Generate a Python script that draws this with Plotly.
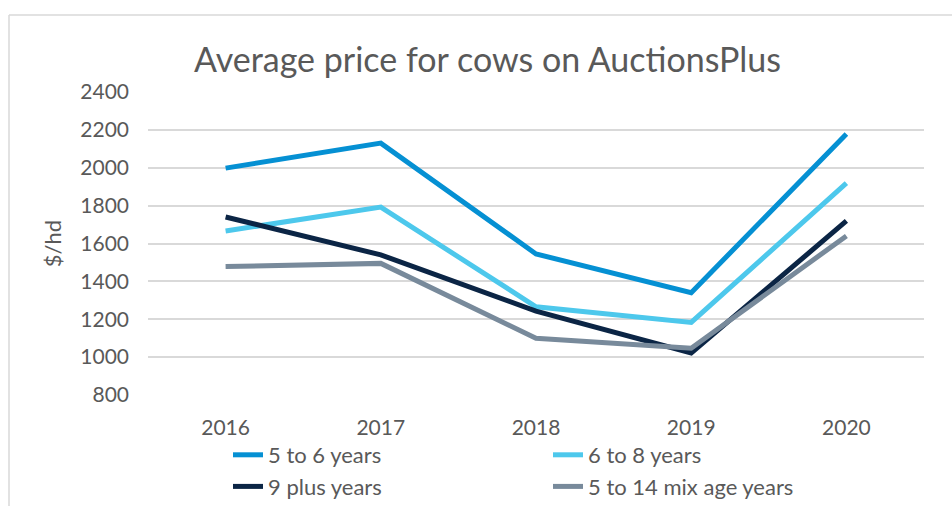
import plotly.graph_objects as go

years = ["2016", "2017", "2018", "2019", "2020"]
s_5to6 = [1998, 2130, 1545, 1340, 2178]
s_6to8 = [1666, 1792, 1266, 1183, 1919]
s_9plus = [1740, 1540, 1243, 1022, 1719]
s_5to14 = [1478, 1495, 1100, 1047, 1640]

names = ["5 to 6 years", "6 to 8 years", "9 plus years", "5 to 14 mix age years"]
series = [s_5to6, s_6to8, s_9plus, s_5to14]
colors = ["#0590D3", "#4DC8EC", "#0B2545", "#788A9B"]
legends = ["legend", "legend2", "legend", "legend2"]

FONT = "Lato"
GREY = "#595959"

fig = go.Figure()
for name, vals, col, lg in zip(names, series, colors, legends):
    fig.add_trace(go.Scatter(
        x=years, y=vals, name=name, mode="lines",
        line=dict(color=col, width=5),
        legend=lg,
    ))

W, H = 952, 506
L, R, T, B = 148, 28, 92, 111
pw, ph = W - L - R, H - T - B

def px_x(px):
    return (px - L) / pw

def px_y(py):
    return (H - B - py) / ph

fig.update_layout(
    width=W, height=H,
    margin=dict(l=L, r=R, t=T, b=B, autoexpand=False),
    paper_bgcolor="white", plot_bgcolor="white",
    font=dict(family=FONT, color=GREY, size=21),
    title=dict(text="Average price for cows on AuctionsPlus",
               font=dict(family=FONT, size=34, color=GREY),
               x=487.5 / W, xanchor="center", xref="container",
               y=1 - 60 / H, yanchor="middle", yref="container"),
    xaxis=dict(type="category", range=[-0.5, 4.5], showgrid=False, showline=False,
               zeroline=False, ticks="", tickfont=dict(size=21, color=GREY),
               ticklabelstandoff=18),
    yaxis=dict(range=[800, 2400], dtick=200, tick0=800, showgrid=True,
               gridcolor="#D9D9D9", gridwidth=1.5, zeroline=False, showline=False,
               ticks="", tickfont=dict(size=21, color=GREY), ticklabelstandoff=18,
               title=dict(text="$/hd", font=dict(size=22, color=GREY), standoff=12)),
    legend=dict(x=px_x(228), xanchor="left", y=px_y(434), yanchor="top",
                orientation="v", font=dict(size=22, color=GREY),
                bgcolor="rgba(0,0,0,0)", itemclick=False),
    legend2=dict(x=px_x(548), xanchor="left", y=px_y(434), yanchor="top",
                 orientation="v", font=dict(size=22, color=GREY),
                 bgcolor="rgba(0,0,0,0)", itemclick=False),
    showlegend=True,
    shapes=[
        dict(type="line", xref="paper", yref="paper",
             x0=px_x(9), x1=px_x(960), y0=px_y(15), y1=px_y(15),
             line=dict(color="#D9D9D9", width=1.5)),
        dict(type="line", xref="paper", yref="paper",
             x0=px_x(9), x1=px_x(9), y0=px_y(15), y1=px_y(520),
             line=dict(color="#D9D9D9", width=1.5)),
    ],
)

fig.write_html("out.html")
